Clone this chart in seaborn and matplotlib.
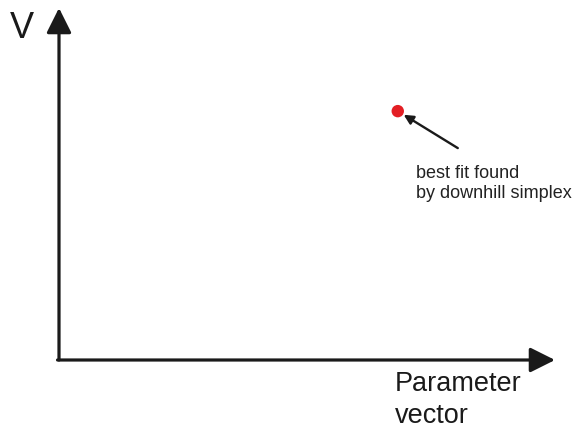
import matplotlib
matplotlib.use("Agg")
import matplotlib.pyplot as plt
import seaborn as sns
import pandas as pd

# -------------------------
# Data: best fit point in (parameter vector, V) space
# -------------------------
param_values = [0.683]
v_values = [0.707]
point_label = "best fit found\nby downhill simplex"
x_label = "Parameter\nvector"
y_label = "V"

df = pd.DataFrame({"param": param_values, "V": v_values})

sns.set_style("white")
plt.rcParams["font.family"] = ["Liberation Sans", "DejaVu Sans"]

fig = plt.figure(figsize=(5.76, 4.32), dpi=100)
# axes origin at the corner of the two arrows
ax = fig.add_axes([59 / 576, 72 / 432, 496 / 576, 352 / 432])
ax.set_xlim(0, 1)
ax.set_ylim(0, 1)
ax.axis("off")

# axis arrows (projecting caps give a clean corner)
arrow_kw = dict(arrowstyle="-|>", lw=2.3, color="#1a1a1a",
                mutation_scale=38, shrinkA=0, shrinkB=0)
ax.annotate("", xy=(1, 0), xytext=(-0.003, 0), xycoords="axes fraction",
            arrowprops=arrow_kw, annotation_clip=False)
ax.annotate("", xy=(0, 1), xytext=(0, 0), xycoords="axes fraction",
            arrowprops=arrow_kw, annotation_clip=False)

# best fit point
sns.scatterplot(data=df, x="param", y="V", ax=ax, color="#e31e24",
                s=80, edgecolor="none", zorder=5, clip_on=False)

# pointer arrow + label
px, py = param_values[0], v_values[0]
ax.annotate("", xy=(px, py), xytext=(px + 0.121, py - 0.105),
            arrowprops=dict(arrowstyle="-|>", lw=1.7, color="#1a1a1a",
                            mutation_scale=14, shrinkA=0, shrinkB=5))
ax.text(px + 0.037, py - 0.152, point_label, fontsize=13,
        color="#222222", va="top", ha="left", linespacing=1.25)

# axis labels
fig.text(10 / 576, 1 - 28 / 432, y_label, fontsize=26, color="#1a1a1a",
         va="center", ha="left")
fig.text(395 / 576, 1 - 371 / 432, x_label, fontsize=19.5, color="#1a1a1a",
         va="top", ha="left", linespacing=1.3)

fig.savefig("out.png", dpi=100, facecolor="white")
